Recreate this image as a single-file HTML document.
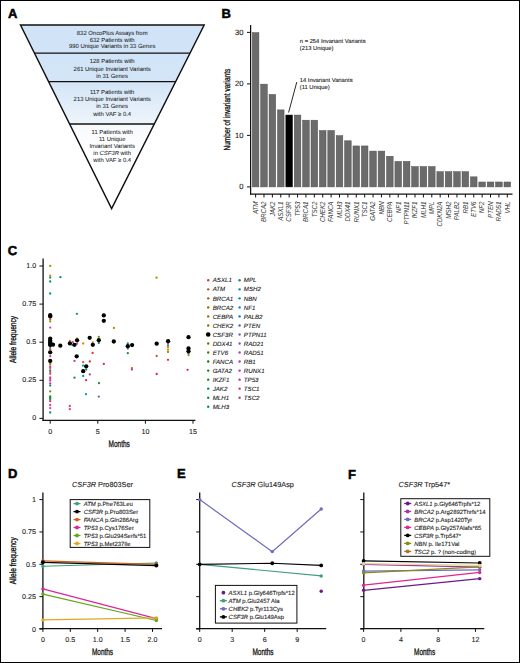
<!DOCTYPE html>
<html><head><meta charset="utf-8"><title>Figure</title>
<style>
html,body{margin:0;padding:0;background:#fff;}
svg{display:block;}
svg text{font-family:"Liberation Sans", sans-serif;text-rendering:geometricPrecision;stroke:currentColor;stroke-width:0.1px;paint-order:stroke;}
</style></head><body>
<svg width="520" height="663" viewBox="0 0 520 663">
<rect x="0.5" y="0.5" width="519" height="662" fill="#fff" stroke="#000" stroke-width="1"/>
<text x="8.10" y="18.10" font-size="13.0" text-anchor="start" fill="#000" font-weight="bold" font-style="normal" style="stroke-width:0.5px">A</text>
<text x="221.60" y="18.10" font-size="13.0" text-anchor="start" fill="#000" font-weight="bold" font-style="normal" style="stroke-width:0.5px">B</text>
<text x="7.70" y="255.10" font-size="13.0" text-anchor="start" fill="#000" font-weight="bold" font-style="normal" style="stroke-width:0.5px">C</text>
<text x="8.00" y="478.20" font-size="13.0" text-anchor="start" fill="#000" font-weight="bold" font-style="normal" style="stroke-width:0.5px">D</text>
<text x="177.10" y="478.20" font-size="13.0" text-anchor="start" fill="#000" font-weight="bold" font-style="normal" style="stroke-width:0.5px">E</text>
<text x="348.00" y="478.60" font-size="13.0" text-anchor="start" fill="#000" font-weight="bold" font-style="normal" style="stroke-width:0.5px">F</text>
<defs><linearGradient id="fg" x1="0" y1="24" x2="0" y2="209" gradientUnits="userSpaceOnUse"><stop offset="0" stop-color="#d0e3f7"/><stop offset="0.31" stop-color="#d3e5f7"/><stop offset="0.535" stop-color="#edf4fb"/><stop offset="0.545" stop-color="#f7fafd"/><stop offset="0.7" stop-color="#fdfeff"/><stop offset="1" stop-color="#ffffff"/></linearGradient></defs>
<polygon points="20.5,25.0 204.2,25.0 111.6,208.6" fill="url(#fg)" stroke="#111" stroke-width="1.45" stroke-linejoin="miter"/>
<line x1="34.44" y1="53.1" x2="190.03" y2="53.1" stroke="#111" stroke-width="1.45"/>
<line x1="48.58" y1="81.6" x2="175.65" y2="81.6" stroke="#111" stroke-width="1.45"/>
<line x1="69.62" y1="124.0" x2="154.27" y2="124.0" stroke="#111" stroke-width="1.45"/>
<text x="112.20" y="34.60" font-size="5.9" text-anchor="middle" fill="#262626" font-weight="normal" font-style="normal" style="stroke-width:0.06px">832 OncoPlus Assays from</text>
<text x="112.20" y="41.50" font-size="5.9" text-anchor="middle" fill="#262626" font-weight="normal" font-style="normal" style="stroke-width:0.06px">632 Patients with</text>
<text x="112.20" y="48.40" font-size="5.9" text-anchor="middle" fill="#262626" font-weight="normal" font-style="normal" style="stroke-width:0.06px">990 Unique Variants in 33 Genes</text>
<text x="112.20" y="63.30" font-size="5.9" text-anchor="middle" fill="#262626" font-weight="normal" font-style="normal" style="stroke-width:0.06px">128 Patients with</text>
<text x="112.20" y="70.50" font-size="5.9" text-anchor="middle" fill="#262626" font-weight="normal" font-style="normal" style="stroke-width:0.06px">261 Unique Invariant Variants</text>
<text x="112.20" y="77.70" font-size="5.9" text-anchor="middle" fill="#262626" font-weight="normal" font-style="normal" style="stroke-width:0.06px">in 31 Genes</text>
<text x="112.20" y="94.00" font-size="5.9" text-anchor="middle" fill="#262626" font-weight="normal" font-style="normal" style="stroke-width:0.06px">117 Patients with</text>
<text x="112.20" y="101.20" font-size="5.9" text-anchor="middle" fill="#262626" font-weight="normal" font-style="normal" style="stroke-width:0.06px">213 Unique Invariant Variants</text>
<text x="112.20" y="108.40" font-size="5.9" text-anchor="middle" fill="#262626" font-weight="normal" font-style="normal" style="stroke-width:0.06px">in 31 Genes</text>
<text x="112.20" y="115.60" font-size="5.9" text-anchor="middle" fill="#262626" font-weight="normal" font-style="normal" style="stroke-width:0.06px">with VAF &#8805; 0.4</text>
<text x="112.20" y="133.70" font-size="5.9" text-anchor="middle" fill="#262626" font-weight="normal" font-style="normal" style="stroke-width:0.06px">11 Patients with</text>
<text x="112.20" y="140.85" font-size="5.9" text-anchor="middle" fill="#262626" font-weight="normal" font-style="normal" style="stroke-width:0.06px">11 Unique</text>
<text x="112.20" y="148.00" font-size="5.9" text-anchor="middle" fill="#262626" font-weight="normal" font-style="normal" style="stroke-width:0.06px">Invariant Variants</text>
<text x="112.20" y="155.15" font-size="5.9" text-anchor="middle" fill="#262626" font-weight="normal" font-style="normal" style="stroke-width:0.06px">in <tspan font-style="italic">CSF3R</tspan> with</text>
<text x="112.20" y="162.30" font-size="5.9" text-anchor="middle" fill="#262626" font-weight="normal" font-style="normal" style="stroke-width:0.06px">with VAF &#8805; 0.4</text>
<rect x="252.30" y="32.65" width="6.60" height="154.25" fill="#6b6b6b" stroke="#4e4e4e" stroke-width="0.5"/>
<line x1="255.60" y1="194" x2="255.60" y2="197.5" stroke="#111" stroke-width="1"/>
<text transform="translate(257.90,201.5) rotate(-90) scale(0.86,1)" font-size="7.2" font-style="italic" text-anchor="end" fill="#3a3a3a" style="stroke-width:0.03px">ATM</text>
<rect x="260.69" y="84.15" width="6.60" height="102.75" fill="#6b6b6b" stroke="#4e4e4e" stroke-width="0.5"/>
<line x1="263.99" y1="194" x2="263.99" y2="197.5" stroke="#111" stroke-width="1"/>
<text transform="translate(266.29,201.5) rotate(-90) scale(0.86,1)" font-size="7.2" font-style="italic" text-anchor="end" fill="#3a3a3a" style="stroke-width:0.03px">BRCA2</text>
<rect x="269.08" y="94.45" width="6.60" height="92.45" fill="#6b6b6b" stroke="#4e4e4e" stroke-width="0.5"/>
<line x1="272.38" y1="194" x2="272.38" y2="197.5" stroke="#111" stroke-width="1"/>
<text transform="translate(274.68,201.5) rotate(-90) scale(0.86,1)" font-size="7.2" font-style="italic" text-anchor="end" fill="#3a3a3a" style="stroke-width:0.03px">JAK2</text>
<rect x="277.47" y="109.90" width="6.60" height="77.00" fill="#6b6b6b" stroke="#4e4e4e" stroke-width="0.5"/>
<line x1="280.77" y1="194" x2="280.77" y2="197.5" stroke="#111" stroke-width="1"/>
<text transform="translate(283.07,201.5) rotate(-90) scale(0.86,1)" font-size="7.2" font-style="italic" text-anchor="end" fill="#3a3a3a" style="stroke-width:0.03px">ASXL1</text>
<rect x="285.86" y="115.05" width="6.60" height="71.85" fill="#000" stroke="#000" stroke-width="0.5"/>
<line x1="289.16" y1="194" x2="289.16" y2="197.5" stroke="#111" stroke-width="1"/>
<text transform="translate(291.46,201.5) rotate(-90) scale(0.86,1)" font-size="7.2" font-style="italic" text-anchor="end" fill="#3a3a3a" style="stroke-width:0.03px">CSF3R</text>
<rect x="294.25" y="115.05" width="6.60" height="71.85" fill="#6b6b6b" stroke="#4e4e4e" stroke-width="0.5"/>
<line x1="297.55" y1="194" x2="297.55" y2="197.5" stroke="#111" stroke-width="1"/>
<text transform="translate(299.85,201.5) rotate(-90) scale(0.86,1)" font-size="7.2" font-style="italic" text-anchor="end" fill="#3a3a3a" style="stroke-width:0.03px">TP53</text>
<rect x="302.64" y="120.20" width="6.60" height="66.70" fill="#6b6b6b" stroke="#4e4e4e" stroke-width="0.5"/>
<line x1="305.94" y1="194" x2="305.94" y2="197.5" stroke="#111" stroke-width="1"/>
<text transform="translate(308.24,201.5) rotate(-90) scale(0.86,1)" font-size="7.2" font-style="italic" text-anchor="end" fill="#3a3a3a" style="stroke-width:0.03px">BRCA1</text>
<rect x="311.03" y="120.20" width="6.60" height="66.70" fill="#6b6b6b" stroke="#4e4e4e" stroke-width="0.5"/>
<line x1="314.33" y1="194" x2="314.33" y2="197.5" stroke="#111" stroke-width="1"/>
<text transform="translate(316.63,201.5) rotate(-90) scale(0.86,1)" font-size="7.2" font-style="italic" text-anchor="end" fill="#3a3a3a" style="stroke-width:0.03px">TSC2</text>
<rect x="319.42" y="130.50" width="6.60" height="56.40" fill="#6b6b6b" stroke="#4e4e4e" stroke-width="0.5"/>
<line x1="322.72" y1="194" x2="322.72" y2="197.5" stroke="#111" stroke-width="1"/>
<text transform="translate(325.02,201.5) rotate(-90) scale(0.86,1)" font-size="7.2" font-style="italic" text-anchor="end" fill="#3a3a3a" style="stroke-width:0.03px">CHEK2</text>
<rect x="327.81" y="130.50" width="6.60" height="56.40" fill="#6b6b6b" stroke="#4e4e4e" stroke-width="0.5"/>
<line x1="331.11" y1="194" x2="331.11" y2="197.5" stroke="#111" stroke-width="1"/>
<text transform="translate(333.41,201.5) rotate(-90) scale(0.86,1)" font-size="7.2" font-style="italic" text-anchor="end" fill="#3a3a3a" style="stroke-width:0.03px">FANCA</text>
<rect x="336.20" y="135.65" width="6.60" height="51.25" fill="#6b6b6b" stroke="#4e4e4e" stroke-width="0.5"/>
<line x1="339.50" y1="194" x2="339.50" y2="197.5" stroke="#111" stroke-width="1"/>
<text transform="translate(341.80,201.5) rotate(-90) scale(0.86,1)" font-size="7.2" font-style="italic" text-anchor="end" fill="#3a3a3a" style="stroke-width:0.03px">MLH3</text>
<rect x="344.59" y="140.80" width="6.60" height="46.10" fill="#6b6b6b" stroke="#4e4e4e" stroke-width="0.5"/>
<line x1="347.89" y1="194" x2="347.89" y2="197.5" stroke="#111" stroke-width="1"/>
<text transform="translate(350.19,201.5) rotate(-90) scale(0.86,1)" font-size="7.2" font-style="italic" text-anchor="end" fill="#3a3a3a" style="stroke-width:0.03px">DDX41</text>
<rect x="352.98" y="145.95" width="6.60" height="40.95" fill="#6b6b6b" stroke="#4e4e4e" stroke-width="0.5"/>
<line x1="356.28" y1="194" x2="356.28" y2="197.5" stroke="#111" stroke-width="1"/>
<text transform="translate(358.58,201.5) rotate(-90) scale(0.86,1)" font-size="7.2" font-style="italic" text-anchor="end" fill="#3a3a3a" style="stroke-width:0.03px">RUNX1</text>
<rect x="361.37" y="145.95" width="6.60" height="40.95" fill="#6b6b6b" stroke="#4e4e4e" stroke-width="0.5"/>
<line x1="364.67" y1="194" x2="364.67" y2="197.5" stroke="#111" stroke-width="1"/>
<text transform="translate(366.97,201.5) rotate(-90) scale(0.86,1)" font-size="7.2" font-style="italic" text-anchor="end" fill="#3a3a3a" style="stroke-width:0.03px">TSC1</text>
<rect x="369.76" y="151.10" width="6.60" height="35.80" fill="#6b6b6b" stroke="#4e4e4e" stroke-width="0.5"/>
<line x1="373.06" y1="194" x2="373.06" y2="197.5" stroke="#111" stroke-width="1"/>
<text transform="translate(375.36,201.5) rotate(-90) scale(0.86,1)" font-size="7.2" font-style="italic" text-anchor="end" fill="#3a3a3a" style="stroke-width:0.03px">GATA2</text>
<rect x="378.15" y="151.10" width="6.60" height="35.80" fill="#6b6b6b" stroke="#4e4e4e" stroke-width="0.5"/>
<line x1="381.45" y1="194" x2="381.45" y2="197.5" stroke="#111" stroke-width="1"/>
<text transform="translate(383.75,201.5) rotate(-90) scale(0.86,1)" font-size="7.2" font-style="italic" text-anchor="end" fill="#3a3a3a" style="stroke-width:0.03px">NBN</text>
<rect x="386.54" y="156.25" width="6.60" height="30.65" fill="#6b6b6b" stroke="#4e4e4e" stroke-width="0.5"/>
<line x1="389.84" y1="194" x2="389.84" y2="197.5" stroke="#111" stroke-width="1"/>
<text transform="translate(392.14,201.5) rotate(-90) scale(0.86,1)" font-size="7.2" font-style="italic" text-anchor="end" fill="#3a3a3a" style="stroke-width:0.03px">CEBPA</text>
<rect x="394.93" y="161.40" width="6.60" height="25.50" fill="#6b6b6b" stroke="#4e4e4e" stroke-width="0.5"/>
<line x1="398.23" y1="194" x2="398.23" y2="197.5" stroke="#111" stroke-width="1"/>
<text transform="translate(400.53,201.5) rotate(-90) scale(0.86,1)" font-size="7.2" font-style="italic" text-anchor="end" fill="#3a3a3a" style="stroke-width:0.03px">NF1</text>
<rect x="403.32" y="161.40" width="6.60" height="25.50" fill="#6b6b6b" stroke="#4e4e4e" stroke-width="0.5"/>
<line x1="406.62" y1="194" x2="406.62" y2="197.5" stroke="#111" stroke-width="1"/>
<text transform="translate(408.92,201.5) rotate(-90) scale(0.86,1)" font-size="7.2" font-style="italic" text-anchor="end" fill="#3a3a3a" style="stroke-width:0.03px">PTPN11</text>
<rect x="411.71" y="166.55" width="6.60" height="20.35" fill="#6b6b6b" stroke="#4e4e4e" stroke-width="0.5"/>
<line x1="415.01" y1="194" x2="415.01" y2="197.5" stroke="#111" stroke-width="1"/>
<text transform="translate(417.31,201.5) rotate(-90) scale(0.86,1)" font-size="7.2" font-style="italic" text-anchor="end" fill="#3a3a3a" style="stroke-width:0.03px">IKZF1</text>
<rect x="420.10" y="166.55" width="6.60" height="20.35" fill="#6b6b6b" stroke="#4e4e4e" stroke-width="0.5"/>
<line x1="423.40" y1="194" x2="423.40" y2="197.5" stroke="#111" stroke-width="1"/>
<text transform="translate(425.70,201.5) rotate(-90) scale(0.86,1)" font-size="7.2" font-style="italic" text-anchor="end" fill="#3a3a3a" style="stroke-width:0.03px">MLH1</text>
<rect x="428.49" y="166.55" width="6.60" height="20.35" fill="#6b6b6b" stroke="#4e4e4e" stroke-width="0.5"/>
<line x1="431.79" y1="194" x2="431.79" y2="197.5" stroke="#111" stroke-width="1"/>
<text transform="translate(434.09,201.5) rotate(-90) scale(0.86,1)" font-size="7.2" font-style="italic" text-anchor="end" fill="#3a3a3a" style="stroke-width:0.03px">MPL</text>
<rect x="436.88" y="171.70" width="6.60" height="15.20" fill="#6b6b6b" stroke="#4e4e4e" stroke-width="0.5"/>
<line x1="440.18" y1="194" x2="440.18" y2="197.5" stroke="#111" stroke-width="1"/>
<text transform="translate(442.48,201.5) rotate(-90) scale(0.86,1)" font-size="7.2" font-style="italic" text-anchor="end" fill="#3a3a3a" style="stroke-width:0.03px">CDKN2A</text>
<rect x="445.27" y="171.70" width="6.60" height="15.20" fill="#6b6b6b" stroke="#4e4e4e" stroke-width="0.5"/>
<line x1="448.57" y1="194" x2="448.57" y2="197.5" stroke="#111" stroke-width="1"/>
<text transform="translate(450.87,201.5) rotate(-90) scale(0.86,1)" font-size="7.2" font-style="italic" text-anchor="end" fill="#3a3a3a" style="stroke-width:0.03px">MSH2</text>
<rect x="453.66" y="171.70" width="6.60" height="15.20" fill="#6b6b6b" stroke="#4e4e4e" stroke-width="0.5"/>
<line x1="456.96" y1="194" x2="456.96" y2="197.5" stroke="#111" stroke-width="1"/>
<text transform="translate(459.26,201.5) rotate(-90) scale(0.86,1)" font-size="7.2" font-style="italic" text-anchor="end" fill="#3a3a3a" style="stroke-width:0.03px">PALB2</text>
<rect x="462.05" y="171.70" width="6.60" height="15.20" fill="#6b6b6b" stroke="#4e4e4e" stroke-width="0.5"/>
<line x1="465.35" y1="194" x2="465.35" y2="197.5" stroke="#111" stroke-width="1"/>
<text transform="translate(467.65,201.5) rotate(-90) scale(0.86,1)" font-size="7.2" font-style="italic" text-anchor="end" fill="#3a3a3a" style="stroke-width:0.03px">RB1</text>
<rect x="470.44" y="176.85" width="6.60" height="10.05" fill="#6b6b6b" stroke="#4e4e4e" stroke-width="0.5"/>
<line x1="473.74" y1="194" x2="473.74" y2="197.5" stroke="#111" stroke-width="1"/>
<text transform="translate(476.04,201.5) rotate(-90) scale(0.86,1)" font-size="7.2" font-style="italic" text-anchor="end" fill="#3a3a3a" style="stroke-width:0.03px">ETV6</text>
<rect x="478.83" y="182.00" width="6.60" height="4.90" fill="#6b6b6b" stroke="#4e4e4e" stroke-width="0.5"/>
<line x1="482.13" y1="194" x2="482.13" y2="197.5" stroke="#111" stroke-width="1"/>
<text transform="translate(484.43,201.5) rotate(-90) scale(0.86,1)" font-size="7.2" font-style="italic" text-anchor="end" fill="#3a3a3a" style="stroke-width:0.03px">NF2</text>
<rect x="487.22" y="182.00" width="6.60" height="4.90" fill="#6b6b6b" stroke="#4e4e4e" stroke-width="0.5"/>
<line x1="490.52" y1="194" x2="490.52" y2="197.5" stroke="#111" stroke-width="1"/>
<text transform="translate(492.82,201.5) rotate(-90) scale(0.86,1)" font-size="7.2" font-style="italic" text-anchor="end" fill="#3a3a3a" style="stroke-width:0.03px">PTEN</text>
<rect x="495.61" y="182.00" width="6.60" height="4.90" fill="#6b6b6b" stroke="#4e4e4e" stroke-width="0.5"/>
<line x1="498.91" y1="194" x2="498.91" y2="197.5" stroke="#111" stroke-width="1"/>
<text transform="translate(501.21,201.5) rotate(-90) scale(0.86,1)" font-size="7.2" font-style="italic" text-anchor="end" fill="#3a3a3a" style="stroke-width:0.03px">RAD51</text>
<rect x="504.00" y="182.00" width="6.60" height="4.90" fill="#6b6b6b" stroke="#4e4e4e" stroke-width="0.5"/>
<line x1="507.30" y1="194" x2="507.30" y2="197.5" stroke="#111" stroke-width="1"/>
<text transform="translate(509.60,201.5) rotate(-90) scale(0.86,1)" font-size="7.2" font-style="italic" text-anchor="end" fill="#3a3a3a" style="stroke-width:0.03px">VHL</text>
<line x1="250.6" y1="25" x2="250.6" y2="194.6" stroke="#111" stroke-width="1.25"/>
<line x1="250" y1="194" x2="512.5" y2="194" stroke="#111" stroke-width="1.25"/>
<line x1="247" y1="186.90" x2="250.6" y2="186.90" stroke="#111" stroke-width="1"/>
<text x="243.40" y="189.10" font-size="7.6" text-anchor="end" fill="#222" font-weight="normal" font-style="normal" >0</text>
<line x1="247" y1="135.40" x2="250.6" y2="135.40" stroke="#111" stroke-width="1"/>
<text x="243.40" y="137.60" font-size="7.6" text-anchor="end" fill="#222" font-weight="normal" font-style="normal" >10</text>
<line x1="247" y1="83.90" x2="250.6" y2="83.90" stroke="#111" stroke-width="1"/>
<text x="243.40" y="86.10" font-size="7.6" text-anchor="end" fill="#222" font-weight="normal" font-style="normal" >20</text>
<line x1="247" y1="32.40" x2="250.6" y2="32.40" stroke="#111" stroke-width="1"/>
<text x="243.40" y="34.60" font-size="7.6" text-anchor="end" fill="#222" font-weight="normal" font-style="normal" >30</text>
<text transform="translate(229.5,109.6) rotate(-90) scale(0.727,1)" font-size="9" text-anchor="middle" fill="#111" style="stroke-width:0.3px">Number of invariant variants</text>
<text x="299.80" y="42.60" font-size="5.8" text-anchor="start" fill="#222" font-weight="normal" font-style="normal" >n = 254 Invariant Variants</text>
<text x="299.80" y="49.90" font-size="5.8" text-anchor="start" fill="#222" font-weight="normal" font-style="normal" >(213 Unique)</text>
<text x="299.80" y="82.40" font-size="5.8" text-anchor="start" fill="#222" font-weight="normal" font-style="normal" >14 Invariant Variants</text>
<text x="299.80" y="89.40" font-size="5.8" text-anchor="start" fill="#222" font-weight="normal" font-style="normal" >(11 Unique)</text>
<line x1="296.8" y1="82" x2="288.6" y2="112.5" stroke="#111" stroke-width="0.9"/>
<line x1="43.1" y1="258.5" x2="43.1" y2="421" stroke="#111" stroke-width="1.3"/>
<line x1="42.5" y1="420.4" x2="195.4" y2="420.4" stroke="#111" stroke-width="1.3"/>
<line x1="39.4" y1="418.40" x2="43.1" y2="418.40" stroke="#111" stroke-width="1"/>
<text x="36.10" y="420.00" font-size="7.1" text-anchor="end" fill="#222" font-weight="normal" font-style="normal" >0</text>
<line x1="39.4" y1="380.30" x2="43.1" y2="380.30" stroke="#111" stroke-width="1"/>
<text x="36.10" y="381.90" font-size="7.1" text-anchor="end" fill="#222" font-weight="normal" font-style="normal" >0.25</text>
<line x1="39.4" y1="342.20" x2="43.1" y2="342.20" stroke="#111" stroke-width="1"/>
<text x="36.10" y="343.80" font-size="7.1" text-anchor="end" fill="#222" font-weight="normal" font-style="normal" >0.5</text>
<line x1="39.4" y1="304.10" x2="43.1" y2="304.10" stroke="#111" stroke-width="1"/>
<text x="36.10" y="305.70" font-size="7.1" text-anchor="end" fill="#222" font-weight="normal" font-style="normal" >0.75</text>
<line x1="39.4" y1="266.00" x2="43.1" y2="266.00" stroke="#111" stroke-width="1"/>
<text x="36.10" y="267.60" font-size="7.1" text-anchor="end" fill="#222" font-weight="normal" font-style="normal" >1.0</text>
<line x1="50.20" y1="420.4" x2="50.20" y2="423.7" stroke="#111" stroke-width="1"/>
<text x="50.20" y="433.70" font-size="7.1" text-anchor="middle" fill="#222" font-weight="normal" font-style="normal" >0</text>
<line x1="97.80" y1="420.4" x2="97.80" y2="423.7" stroke="#111" stroke-width="1"/>
<text x="97.80" y="433.70" font-size="7.1" text-anchor="middle" fill="#222" font-weight="normal" font-style="normal" >5</text>
<line x1="145.40" y1="420.4" x2="145.40" y2="423.7" stroke="#111" stroke-width="1"/>
<text x="145.40" y="433.70" font-size="7.1" text-anchor="middle" fill="#222" font-weight="normal" font-style="normal" >10</text>
<line x1="193.00" y1="420.4" x2="193.00" y2="423.7" stroke="#111" stroke-width="1"/>
<text x="193.00" y="433.70" font-size="7.1" text-anchor="middle" fill="#222" font-weight="normal" font-style="normal" >15</text>
<text transform="translate(119.2,446.7) scale(0.68,1)" font-size="9.5" text-anchor="middle" fill="#111" style="stroke-width:0.3px">Months</text>
<text transform="translate(16.0,339.4) rotate(-90) scale(0.735,1)" font-size="9" text-anchor="middle" fill="#111" style="stroke-width:0.3px">Allele frequency</text>
<circle cx="208.2" cy="280.30" r="1.2" fill="#bf464d"/>
<text x="212.70" y="282.45" font-size="6.15" text-anchor="start" fill="#222" font-weight="normal" font-style="italic" >ASXL1</text>
<circle cx="208.2" cy="289.33" r="1.2" fill="#b85028"/>
<text x="212.70" y="291.48" font-size="6.15" text-anchor="start" fill="#222" font-weight="normal" font-style="italic" >ATM</text>
<circle cx="208.2" cy="298.36" r="1.2" fill="#af5900"/>
<text x="212.70" y="300.51" font-size="6.15" text-anchor="start" fill="#222" font-weight="normal" font-style="italic" >BRCA1</text>
<circle cx="208.2" cy="307.39" r="1.2" fill="#a46100"/>
<text x="212.70" y="309.54" font-size="6.15" text-anchor="start" fill="#222" font-weight="normal" font-style="italic" >BRCA2</text>
<circle cx="208.2" cy="316.42" r="1.2" fill="#986800"/>
<text x="212.70" y="318.57" font-size="6.15" text-anchor="start" fill="#222" font-weight="normal" font-style="italic" >CEBPA</text>
<circle cx="208.2" cy="325.45" r="1.2" fill="#896f00"/>
<text x="212.70" y="327.60" font-size="6.15" text-anchor="start" fill="#222" font-weight="normal" font-style="italic" >CHEK2</text>
<circle cx="208.2" cy="334.48" r="2.3" fill="#000"/>
<text x="212.70" y="336.63" font-size="6.15" text-anchor="start" fill="#222" font-weight="normal" font-style="italic" >CSF3R</text>
<circle cx="208.2" cy="343.51" r="1.2" fill="#627a00"/>
<text x="212.70" y="345.66" font-size="6.15" text-anchor="start" fill="#222" font-weight="normal" font-style="italic" >DDX41</text>
<circle cx="208.2" cy="352.54" r="1.2" fill="#457f00"/>
<text x="212.70" y="354.69" font-size="6.15" text-anchor="start" fill="#222" font-weight="normal" font-style="italic" >ETV6</text>
<circle cx="208.2" cy="361.57" r="1.2" fill="#008400"/>
<text x="212.70" y="363.72" font-size="6.15" text-anchor="start" fill="#222" font-weight="normal" font-style="italic" >FANCA</text>
<circle cx="208.2" cy="370.60" r="1.2" fill="#008700"/>
<text x="212.70" y="372.75" font-size="6.15" text-anchor="start" fill="#222" font-weight="normal" font-style="italic" >GATA2</text>
<circle cx="208.2" cy="379.63" r="1.2" fill="#008a31"/>
<text x="212.70" y="381.78" font-size="6.15" text-anchor="start" fill="#222" font-weight="normal" font-style="italic" >IKZF1</text>
<circle cx="208.2" cy="388.66" r="1.2" fill="#008d51"/>
<text x="212.70" y="390.81" font-size="6.15" text-anchor="start" fill="#222" font-weight="normal" font-style="italic" >JAK2</text>
<circle cx="208.2" cy="397.69" r="1.2" fill="#008e6a"/>
<text x="212.70" y="399.84" font-size="6.15" text-anchor="start" fill="#222" font-weight="normal" font-style="italic" >MLH1</text>
<circle cx="208.2" cy="406.72" r="1.2" fill="#008e80"/>
<text x="212.70" y="408.87" font-size="6.15" text-anchor="start" fill="#222" font-weight="normal" font-style="italic" >MLH3</text>
<circle cx="239.6" cy="280.30" r="1.2" fill="#008d94"/>
<text x="243.80" y="282.45" font-size="6.15" text-anchor="start" fill="#222" font-weight="normal" font-style="italic" >MPL</text>
<circle cx="239.6" cy="289.33" r="1.2" fill="#008ba6"/>
<text x="243.80" y="291.48" font-size="6.15" text-anchor="start" fill="#222" font-weight="normal" font-style="italic" >MSH2</text>
<circle cx="239.6" cy="298.36" r="1.2" fill="#0086b5"/>
<text x="243.80" y="300.51" font-size="6.15" text-anchor="start" fill="#222" font-weight="normal" font-style="italic" >NBN</text>
<circle cx="239.6" cy="307.39" r="1.2" fill="#007fc2"/>
<text x="243.80" y="309.54" font-size="6.15" text-anchor="start" fill="#222" font-weight="normal" font-style="italic" >NF1</text>
<circle cx="239.6" cy="316.42" r="1.2" fill="#0076cb"/>
<text x="243.80" y="318.57" font-size="6.15" text-anchor="start" fill="#222" font-weight="normal" font-style="italic" >PALB2</text>
<circle cx="239.6" cy="325.45" r="1.2" fill="#3f6ad0"/>
<text x="243.80" y="327.60" font-size="6.15" text-anchor="start" fill="#222" font-weight="normal" font-style="italic" >PTEN</text>
<circle cx="239.6" cy="334.48" r="1.2" fill="#735dd1"/>
<text x="243.80" y="336.63" font-size="6.15" text-anchor="start" fill="#222" font-weight="normal" font-style="italic" >PTPN11</text>
<circle cx="239.6" cy="343.51" r="1.2" fill="#924ecd"/>
<text x="243.80" y="345.66" font-size="6.15" text-anchor="start" fill="#222" font-weight="normal" font-style="italic" >RAD21</text>
<circle cx="239.6" cy="352.54" r="1.2" fill="#a940c4"/>
<text x="243.80" y="354.69" font-size="6.15" text-anchor="start" fill="#222" font-weight="normal" font-style="italic" >RAD51</text>
<circle cx="239.6" cy="361.57" r="1.2" fill="#b834b7"/>
<text x="243.80" y="363.72" font-size="6.15" text-anchor="start" fill="#222" font-weight="normal" font-style="italic" >RB1</text>
<circle cx="239.6" cy="370.60" r="1.2" fill="#c12da7"/>
<text x="243.80" y="372.75" font-size="6.15" text-anchor="start" fill="#222" font-weight="normal" font-style="italic" >RUNX1</text>
<circle cx="239.6" cy="379.63" r="1.2" fill="#c62d95"/>
<text x="243.80" y="381.78" font-size="6.15" text-anchor="start" fill="#222" font-weight="normal" font-style="italic" >TP53</text>
<circle cx="239.6" cy="388.66" r="1.2" fill="#c63380"/>
<text x="243.80" y="390.81" font-size="6.15" text-anchor="start" fill="#222" font-weight="normal" font-style="italic" >TSC1</text>
<circle cx="239.6" cy="397.69" r="1.2" fill="#c43c69"/>
<text x="243.80" y="399.84" font-size="6.15" text-anchor="start" fill="#222" font-weight="normal" font-style="italic" >TSC2</text>
<circle cx="50.2" cy="265.9" r="1.15" fill="#a89000"/>
<circle cx="50.2" cy="275.7" r="1.15" fill="#d88400"/>
<circle cx="50.2" cy="277.6" r="1.15" fill="#009468"/>
<circle cx="50.2" cy="281.5" r="1.15" fill="#009468"/>
<circle cx="50.2" cy="293.5" r="1.15" fill="#009468"/>
<circle cx="50.2" cy="319.5" r="1.15" fill="#d85420"/>
<circle cx="50.2" cy="321.4" r="1.15" fill="#a89000"/>
<circle cx="50.2" cy="327.6" r="1.15" fill="#d83c98"/>
<circle cx="50.2" cy="348.1" r="1.15" fill="#0098c8"/>
<circle cx="50.2" cy="349.4" r="1.15" fill="#d85420"/>
<circle cx="50.2" cy="356.2" r="1.15" fill="#d83c98"/>
<circle cx="50.2" cy="363.4" r="1.15" fill="#d85420"/>
<circle cx="50.2" cy="364.6" r="1.15" fill="#a89000"/>
<circle cx="50.2" cy="366.6" r="1.15" fill="#d83c98"/>
<circle cx="50.2" cy="367.9" r="1.15" fill="#d83c98"/>
<circle cx="50.2" cy="370.5" r="1.15" fill="#009468"/>
<circle cx="50.2" cy="372.1" r="1.15" fill="#d83c98"/>
<circle cx="50.2" cy="373.8" r="1.15" fill="#d85420"/>
<circle cx="50.2" cy="377.4" r="1.15" fill="#d83c98"/>
<circle cx="50.2" cy="378.8" r="1.15" fill="#d83c98"/>
<circle cx="50.2" cy="380.6" r="1.15" fill="#c038a8"/>
<circle cx="50.2" cy="383.5" r="1.15" fill="#c038a8"/>
<circle cx="50.2" cy="385.6" r="1.15" fill="#009468"/>
<circle cx="50.2" cy="391.4" r="1.15" fill="#609c00"/>
<circle cx="50.2" cy="396.4" r="1.15" fill="#189034"/>
<circle cx="50.2" cy="397.7" r="1.15" fill="#189034"/>
<circle cx="50.2" cy="399.0" r="1.15" fill="#189034"/>
<circle cx="50.2" cy="401.1" r="1.15" fill="#d03040"/>
<circle cx="50.2" cy="405.0" r="1.15" fill="#d83c98"/>
<circle cx="50.2" cy="408.1" r="1.15" fill="#d83c98"/>
<circle cx="50.2" cy="412.5" r="1.15" fill="#009468"/>
<circle cx="60.4" cy="277.2" r="1.15" fill="#009468"/>
<circle cx="76.9" cy="313.8" r="1.15" fill="#009468"/>
<circle cx="69.9" cy="340.8" r="1.15" fill="#d88400"/>
<circle cx="72.8" cy="342.2" r="1.15" fill="#d83c98"/>
<circle cx="72.5" cy="345.2" r="1.15" fill="#0098c8"/>
<circle cx="77.1" cy="338.6" r="1.15" fill="#a89000"/>
<circle cx="77.1" cy="343.7" r="1.15" fill="#d83c98"/>
<circle cx="83.2" cy="343.5" r="1.15" fill="#d88400"/>
<circle cx="92.8" cy="342.3" r="1.15" fill="#d88400"/>
<circle cx="92.6" cy="352.9" r="1.15" fill="#d03040"/>
<circle cx="74.5" cy="360.9" r="1.15" fill="#c038a8"/>
<circle cx="83.2" cy="362.2" r="1.15" fill="#d85420"/>
<circle cx="89.8" cy="361.5" r="1.15" fill="#d03040"/>
<circle cx="83.0" cy="365.6" r="1.15" fill="#0098c8"/>
<circle cx="86.2" cy="369.5" r="1.15" fill="#189034"/>
<circle cx="89.8" cy="374.4" r="1.15" fill="#c038a8"/>
<circle cx="83.2" cy="376.0" r="1.15" fill="#009494"/>
<circle cx="74.5" cy="377.7" r="1.15" fill="#189034"/>
<circle cx="86.1" cy="380.2" r="1.15" fill="#cc2c54"/>
<circle cx="86.0" cy="394.2" r="1.15" fill="#0098c8"/>
<circle cx="69.8" cy="406.0" r="1.15" fill="#d83c98"/>
<circle cx="69.8" cy="409.2" r="1.15" fill="#d83c98"/>
<circle cx="98.8" cy="396.6" r="1.15" fill="#8050c0"/>
<circle cx="99.0" cy="383.2" r="1.15" fill="#189034"/>
<circle cx="113.9" cy="328.0" r="1.15" fill="#a89000"/>
<circle cx="98.8" cy="336.9" r="1.15" fill="#609c00"/>
<circle cx="98.8" cy="342.9" r="1.15" fill="#189034"/>
<circle cx="103.8" cy="363.9" r="1.15" fill="#d03040"/>
<circle cx="127.8" cy="343.3" r="1.15" fill="#009468"/>
<circle cx="127.8" cy="348.5" r="1.15" fill="#8050c0"/>
<circle cx="127.8" cy="353.2" r="1.15" fill="#189034"/>
<circle cx="131.9" cy="368.1" r="1.15" fill="#d85420"/>
<circle cx="131.9" cy="369.6" r="1.15" fill="#c038a8"/>
<circle cx="156.5" cy="277.7" r="1.15" fill="#a89000"/>
<circle cx="156.7" cy="356.0" r="1.15" fill="#d85420"/>
<circle cx="156.7" cy="374.0" r="1.15" fill="#d03040"/>
<circle cx="168.0" cy="343.6" r="1.15" fill="#d83c98"/>
<circle cx="168.0" cy="345.4" r="1.15" fill="#0098c8"/>
<circle cx="168.0" cy="347.0" r="1.15" fill="#d88400"/>
<circle cx="168.0" cy="349.6" r="1.15" fill="#d88400"/>
<circle cx="168.0" cy="351.9" r="1.15" fill="#a89000"/>
<circle cx="168.0" cy="359.8" r="1.15" fill="#d03040"/>
<circle cx="187.6" cy="369.8" r="1.15" fill="#d03040"/>
<circle cx="188.5" cy="353.6" r="1.15" fill="#009494"/>
<circle cx="188.5" cy="355.2" r="1.15" fill="#d88400"/>
<circle cx="50.2" cy="315.2" r="2.15" fill="#000"/>
<circle cx="50.2" cy="316.4" r="2.15" fill="#000"/>
<circle cx="50.2" cy="338.6" r="2.15" fill="#000"/>
<circle cx="50.2" cy="340.4" r="2.15" fill="#000"/>
<circle cx="50.2" cy="342.2" r="2.15" fill="#000"/>
<circle cx="50.2" cy="344.0" r="2.15" fill="#000"/>
<circle cx="50.2" cy="345.0" r="2.15" fill="#000"/>
<circle cx="53.0" cy="344.7" r="2.15" fill="#000"/>
<circle cx="50.2" cy="352.3" r="2.15" fill="#000"/>
<circle cx="50.2" cy="360.9" r="2.15" fill="#000"/>
<circle cx="60.3" cy="345.7" r="2.15" fill="#000"/>
<circle cx="69.9" cy="343.4" r="2.15" fill="#000"/>
<circle cx="74.5" cy="344.8" r="2.15" fill="#000"/>
<circle cx="77.1" cy="340.3" r="2.15" fill="#000"/>
<circle cx="89.7" cy="337.8" r="2.15" fill="#000"/>
<circle cx="92.8" cy="344.8" r="2.15" fill="#000"/>
<circle cx="76.7" cy="356.3" r="2.15" fill="#000"/>
<circle cx="86.2" cy="366.3" r="2.15" fill="#000"/>
<circle cx="83.2" cy="371.2" r="2.15" fill="#000"/>
<circle cx="98.8" cy="340.2" r="2.15" fill="#000"/>
<circle cx="103.8" cy="315.4" r="2.15" fill="#000"/>
<circle cx="103.8" cy="320.8" r="2.15" fill="#000"/>
<circle cx="113.8" cy="341.5" r="2.15" fill="#000"/>
<circle cx="127.8" cy="346.2" r="2.15" fill="#000"/>
<circle cx="132.1" cy="345.1" r="2.15" fill="#000"/>
<circle cx="156.7" cy="343.7" r="2.15" fill="#000"/>
<circle cx="168.1" cy="341.2" r="2.15" fill="#000"/>
<circle cx="188.5" cy="337.2" r="2.15" fill="#000"/>
<circle cx="188.5" cy="348.5" r="2.15" fill="#000"/>
<circle cx="188.5" cy="351.3" r="2.15" fill="#000"/>
<line x1="42.9" y1="492.6" x2="42.9" y2="629.2" stroke="#111" stroke-width="1.3"/>
<line x1="39.4" y1="628.6" x2="162.0" y2="628.6" stroke="#111" stroke-width="1.3"/>
<line x1="39.4" y1="629.00" x2="42.9" y2="629.00" stroke="#111" stroke-width="1"/>
<text x="35.90" y="631.50" font-size="7.1" text-anchor="end" fill="#222" font-weight="normal" font-style="normal" >0</text>
<line x1="39.4" y1="596.65" x2="42.9" y2="596.65" stroke="#111" stroke-width="1"/>
<text x="35.90" y="599.15" font-size="7.1" text-anchor="end" fill="#222" font-weight="normal" font-style="normal" >0.25</text>
<line x1="39.4" y1="564.30" x2="42.9" y2="564.30" stroke="#111" stroke-width="1"/>
<text x="35.90" y="566.80" font-size="7.1" text-anchor="end" fill="#222" font-weight="normal" font-style="normal" >0.5</text>
<line x1="39.4" y1="531.95" x2="42.9" y2="531.95" stroke="#111" stroke-width="1"/>
<text x="35.90" y="534.45" font-size="7.1" text-anchor="end" fill="#222" font-weight="normal" font-style="normal" >0.75</text>
<line x1="39.4" y1="499.60" x2="42.9" y2="499.60" stroke="#111" stroke-width="1"/>
<text x="35.90" y="502.10" font-size="7.1" text-anchor="end" fill="#222" font-weight="normal" font-style="normal" >1</text>
<line x1="42.90" y1="628.6" x2="42.90" y2="631.9" stroke="#111" stroke-width="1"/>
<text x="42.90" y="642.00" font-size="7.1" text-anchor="middle" fill="#222" font-weight="normal" font-style="normal" >0</text>
<line x1="70.30" y1="628.6" x2="70.30" y2="631.9" stroke="#111" stroke-width="1"/>
<text x="70.30" y="642.00" font-size="7.1" text-anchor="middle" fill="#222" font-weight="normal" font-style="normal" >0.5</text>
<line x1="97.70" y1="628.6" x2="97.70" y2="631.9" stroke="#111" stroke-width="1"/>
<text x="97.70" y="642.00" font-size="7.1" text-anchor="middle" fill="#222" font-weight="normal" font-style="normal" >1.0</text>
<line x1="125.10" y1="628.6" x2="125.10" y2="631.9" stroke="#111" stroke-width="1"/>
<text x="125.10" y="642.00" font-size="7.1" text-anchor="middle" fill="#222" font-weight="normal" font-style="normal" >1.5</text>
<line x1="152.50" y1="628.6" x2="152.50" y2="631.9" stroke="#111" stroke-width="1"/>
<text x="152.50" y="642.00" font-size="7.1" text-anchor="middle" fill="#222" font-weight="normal" font-style="normal" >2.0</text>
<text x="102.50" y="487.20" font-size="7.3" text-anchor="middle" fill="#222" font-weight="normal" font-style="normal" ><tspan font-style="italic">CSF3R</tspan> Pro803Ser</text>
<text transform="translate(102.5,655.0) scale(0.68,1)" font-size="9.5" text-anchor="middle" fill="#111" style="stroke-width:0.3px">Months</text>
<text transform="translate(15.8,560.8) rotate(-90) scale(0.735,1)" font-size="9" text-anchor="middle" fill="#111" style="stroke-width:0.3px">Allele frequency</text>
<polyline points="42.90,566.24 156.34,563.01" fill="none" stroke="#3fa07a" stroke-width="1.2"/>
<circle cx="42.90" cy="566.24" r="1.7" fill="#3fa07a"/>
<circle cx="156.34" cy="563.01" r="1.7" fill="#3fa07a"/>
<polyline points="42.90,560.81 156.34,564.30" fill="none" stroke="#d2601a" stroke-width="1.2"/>
<circle cx="42.90" cy="560.81" r="1.7" fill="#d2601a"/>
<circle cx="156.34" cy="564.30" r="1.7" fill="#d2601a"/>
<polyline points="42.90,588.89 156.34,618.65" fill="none" stroke="#d8289a" stroke-width="1.2"/>
<circle cx="42.90" cy="588.89" r="1.7" fill="#d8289a"/>
<circle cx="156.34" cy="618.65" r="1.7" fill="#d8289a"/>
<polyline points="42.90,594.06 156.34,620.46" fill="none" stroke="#66a61e" stroke-width="1.2"/>
<circle cx="42.90" cy="594.06" r="1.7" fill="#66a61e"/>
<circle cx="156.34" cy="620.46" r="1.7" fill="#66a61e"/>
<polyline points="42.90,619.94 156.34,617.87" fill="none" stroke="#e0a820" stroke-width="1.2"/>
<circle cx="42.90" cy="619.94" r="1.7" fill="#e0a820"/>
<circle cx="156.34" cy="617.87" r="1.7" fill="#e0a820"/>
<polyline points="42.90,562.36 156.34,565.59" fill="none" stroke="#000" stroke-width="1.2"/>
<circle cx="42.90" cy="562.36" r="2.0" fill="#000"/>
<circle cx="156.34" cy="565.59" r="2.0" fill="#000"/>
<rect x="70.2" y="499.6" width="79.60000000000001" height="47.799999999999955" fill="#fff" stroke="#111" stroke-width="1"/>
<line x1="73.5" y1="503.6" x2="80.5" y2="503.6" stroke="#3fa07a" stroke-width="1.3"/>
<circle cx="77.0" cy="503.6" r="1.9" fill="#3fa07a"/>
<text x="83.7" y="505.70" font-size="5.95" fill="#222"><tspan font-style="italic">ATM</tspan> p.Phe763Leu</text>
<line x1="73.5" y1="511.6" x2="80.5" y2="511.6" stroke="#000" stroke-width="1.3"/>
<circle cx="77.0" cy="511.6" r="1.9" fill="#000"/>
<text x="83.7" y="513.70" font-size="5.95" fill="#222"><tspan font-style="italic">CSF3R</tspan> p.Pro803Ser</text>
<line x1="73.5" y1="519.6" x2="80.5" y2="519.6" stroke="#d2601a" stroke-width="1.3"/>
<circle cx="77.0" cy="519.6" r="1.9" fill="#d2601a"/>
<text x="83.7" y="521.70" font-size="5.95" fill="#222"><tspan font-style="italic">FANCA</tspan> p.Gln286Arg</text>
<line x1="73.5" y1="527.5" x2="80.5" y2="527.5" stroke="#d8289a" stroke-width="1.3"/>
<circle cx="77.0" cy="527.5" r="1.9" fill="#d8289a"/>
<text x="83.7" y="529.60" font-size="5.95" fill="#222"><tspan font-style="italic">TP53</tspan> p.Cys176Ser</text>
<line x1="73.5" y1="535.5" x2="80.5" y2="535.5" stroke="#66a61e" stroke-width="1.3"/>
<circle cx="77.0" cy="535.5" r="1.9" fill="#66a61e"/>
<text x="83.7" y="537.60" font-size="5.95" fill="#222"><tspan font-style="italic">TP53</tspan> p.Glu294Serfs*51</text>
<line x1="73.5" y1="543.5" x2="80.5" y2="543.5" stroke="#e0a820" stroke-width="1.3"/>
<circle cx="77.0" cy="543.5" r="1.9" fill="#e0a820"/>
<text x="83.7" y="545.60" font-size="5.95" fill="#222"><tspan font-style="italic">TP53</tspan> p.Met237Ile</text>
<line x1="199.7" y1="492.6" x2="199.7" y2="629.2" stroke="#111" stroke-width="1.3"/>
<line x1="196.2" y1="628.6" x2="326.2" y2="628.6" stroke="#111" stroke-width="1.3"/>
<line x1="196.2" y1="629.00" x2="199.7" y2="629.00" stroke="#111" stroke-width="1"/>
<line x1="196.2" y1="596.65" x2="199.7" y2="596.65" stroke="#111" stroke-width="1"/>
<line x1="196.2" y1="564.30" x2="199.7" y2="564.30" stroke="#111" stroke-width="1"/>
<line x1="196.2" y1="531.95" x2="199.7" y2="531.95" stroke="#111" stroke-width="1"/>
<line x1="196.2" y1="499.60" x2="199.7" y2="499.60" stroke="#111" stroke-width="1"/>
<line x1="199.70" y1="628.6" x2="199.70" y2="631.9" stroke="#111" stroke-width="1"/>
<text x="199.70" y="642.00" font-size="7.1" text-anchor="middle" fill="#222" font-weight="normal" font-style="normal" >0</text>
<line x1="232.19" y1="628.6" x2="232.19" y2="631.9" stroke="#111" stroke-width="1"/>
<text x="232.19" y="642.00" font-size="7.1" text-anchor="middle" fill="#222" font-weight="normal" font-style="normal" >3</text>
<line x1="264.68" y1="628.6" x2="264.68" y2="631.9" stroke="#111" stroke-width="1"/>
<text x="264.68" y="642.00" font-size="7.1" text-anchor="middle" fill="#222" font-weight="normal" font-style="normal" >6</text>
<line x1="297.17" y1="628.6" x2="297.17" y2="631.9" stroke="#111" stroke-width="1"/>
<text x="297.17" y="642.00" font-size="7.1" text-anchor="middle" fill="#222" font-weight="normal" font-style="normal" >9</text>
<text x="262.70" y="487.20" font-size="7.35" text-anchor="middle" fill="#222" font-weight="normal" font-style="normal" ><tspan font-style="italic">CSF3R</tspan> Glu149Asp</text>
<text transform="translate(263.0,655.0) scale(0.68,1)" font-size="9.5" text-anchor="middle" fill="#111" style="stroke-width:0.3px">Months</text>
<polyline points="199.70,564.30 321.21,575.95" fill="none" stroke="#3fa07a" stroke-width="1.2"/>
<circle cx="199.70" cy="564.30" r="1.7" fill="#3fa07a"/>
<circle cx="321.21" cy="575.95" r="1.7" fill="#3fa07a"/>
<polyline points="199.70,499.60 272.26,551.62 321.21,509.05" fill="none" stroke="#6b6bc0" stroke-width="1.2"/>
<circle cx="199.70" cy="499.60" r="1.7" fill="#6b6bc0"/>
<circle cx="272.26" cy="551.62" r="1.7" fill="#6b6bc0"/>
<circle cx="321.21" cy="509.05" r="1.7" fill="#6b6bc0"/>
<polyline points="199.70,564.30 272.26,563.26 321.21,565.46" fill="none" stroke="#000" stroke-width="1.2"/>
<circle cx="199.70" cy="564.30" r="1.9" fill="#000"/>
<circle cx="272.26" cy="563.26" r="1.9" fill="#000"/>
<circle cx="321.21" cy="565.46" r="1.9" fill="#000"/>
<circle cx="321.21" cy="591.22" r="1.7" fill="#6a1b8a"/>
<rect x="215.4" y="585.4" width="81.49999999999997" height="37.700000000000045" fill="#fff" stroke="#111" stroke-width="1"/>
<circle cx="223.4" cy="592.7" r="1.9" fill="#6a1b8a"/>
<text x="228.6" y="594.80" font-size="5.95" fill="#222"><tspan font-style="italic">ASXL1</tspan> p.Gly646Trpfs*12</text>
<line x1="219.9" y1="600.7" x2="226.9" y2="600.7" stroke="#3fa07a" stroke-width="1.3"/>
<circle cx="223.4" cy="600.7" r="1.9" fill="#3fa07a"/>
<text x="228.6" y="602.80" font-size="5.95" fill="#222"><tspan font-style="italic">ATM</tspan> p.Glu2457 Ala</text>
<line x1="219.9" y1="608.8" x2="226.9" y2="608.8" stroke="#6b6bc0" stroke-width="1.3"/>
<circle cx="223.4" cy="608.8" r="1.9" fill="#6b6bc0"/>
<text x="228.6" y="610.90" font-size="5.95" fill="#222"><tspan font-style="italic">CHEK2</tspan> p.Tyr113Cys</text>
<line x1="219.9" y1="616.9" x2="226.9" y2="616.9" stroke="#000" stroke-width="1.3"/>
<circle cx="223.4" cy="616.9" r="1.9" fill="#000"/>
<text x="228.6" y="619.00" font-size="5.95" fill="#222"><tspan font-style="italic">CSF3R</tspan> p.Glu149Asp</text>
<line x1="363.8" y1="492.6" x2="363.8" y2="629.2" stroke="#111" stroke-width="1.3"/>
<line x1="360.3" y1="628.6" x2="484.3" y2="628.6" stroke="#111" stroke-width="1.3"/>
<line x1="360.3" y1="629.00" x2="363.8" y2="629.00" stroke="#111" stroke-width="1"/>
<line x1="360.3" y1="596.65" x2="363.8" y2="596.65" stroke="#111" stroke-width="1"/>
<line x1="360.3" y1="564.30" x2="363.8" y2="564.30" stroke="#111" stroke-width="1"/>
<line x1="360.3" y1="531.95" x2="363.8" y2="531.95" stroke="#111" stroke-width="1"/>
<line x1="360.3" y1="499.60" x2="363.8" y2="499.60" stroke="#111" stroke-width="1"/>
<line x1="363.60" y1="628.6" x2="363.60" y2="631.9" stroke="#111" stroke-width="1"/>
<text x="363.60" y="642.00" font-size="7.1" text-anchor="middle" fill="#222" font-weight="normal" font-style="normal" >0</text>
<line x1="400.88" y1="628.6" x2="400.88" y2="631.9" stroke="#111" stroke-width="1"/>
<text x="400.88" y="642.00" font-size="7.1" text-anchor="middle" fill="#222" font-weight="normal" font-style="normal" >4</text>
<line x1="438.16" y1="628.6" x2="438.16" y2="631.9" stroke="#111" stroke-width="1"/>
<text x="438.16" y="642.00" font-size="7.1" text-anchor="middle" fill="#222" font-weight="normal" font-style="normal" >8</text>
<line x1="475.44" y1="628.6" x2="475.44" y2="631.9" stroke="#111" stroke-width="1"/>
<text x="475.44" y="642.00" font-size="7.1" text-anchor="middle" fill="#222" font-weight="normal" font-style="normal" >12</text>
<text x="424.30" y="487.20" font-size="7.3" text-anchor="middle" fill="#222" font-weight="normal" font-style="normal" ><tspan font-style="italic">CSF3R</tspan> Trp547*</text>
<text transform="translate(424.6,655.0) scale(0.68,1)" font-size="9.5" text-anchor="middle" fill="#111" style="stroke-width:0.3px">Months</text>
<polyline points="363.60,590.31 479.73,578.66" fill="none" stroke="#6a1b8a" stroke-width="1.2"/>
<circle cx="363.60" cy="590.31" r="1.7" fill="#6a1b8a"/>
<circle cx="479.73" cy="578.66" r="1.7" fill="#6a1b8a"/>
<polyline points="363.60,564.30 479.73,567.15" fill="none" stroke="#a03ca0" stroke-width="1.2"/>
<circle cx="363.60" cy="564.30" r="1.7" fill="#a03ca0"/>
<circle cx="479.73" cy="567.15" r="1.7" fill="#a03ca0"/>
<polyline points="363.60,571.03 479.73,569.86" fill="none" stroke="#6b6bc0" stroke-width="1.2"/>
<circle cx="363.60" cy="571.03" r="1.7" fill="#6b6bc0"/>
<circle cx="479.73" cy="569.86" r="1.7" fill="#6b6bc0"/>
<polyline points="363.60,585.13 479.73,572.45" fill="none" stroke="#e0288a" stroke-width="1.2"/>
<circle cx="363.60" cy="585.13" r="1.7" fill="#e0288a"/>
<circle cx="479.73" cy="572.45" r="1.7" fill="#e0288a"/>
<polyline points="363.60,560.94 479.73,563.01" fill="none" stroke="#000" stroke-width="1.2"/>
<circle cx="363.60" cy="560.94" r="1.9" fill="#000"/>
<circle cx="479.73" cy="563.01" r="1.9" fill="#000"/>
<polyline points="363.60,572.84 479.73,566.89" fill="none" stroke="#8a8a1a" stroke-width="1.2"/>
<circle cx="363.60" cy="572.84" r="1.7" fill="#8a8a1a"/>
<circle cx="479.73" cy="566.89" r="1.7" fill="#8a8a1a"/>
<polyline points="363.60,563.65 479.73,565.34" fill="none" stroke="#e6d49c" stroke-width="1.2"/>
<circle cx="363.60" cy="563.65" r="1.7" fill="#e6d49c"/>
<circle cx="479.73" cy="565.34" r="1.7" fill="#e6d49c"/>
<rect x="400.8" y="498.7" width="89.0" height="57.599999999999966" fill="#fff" stroke="#111" stroke-width="1"/>
<line x1="404.2" y1="503.5" x2="411.2" y2="503.5" stroke="#6a1b8a" stroke-width="1.3"/>
<circle cx="407.7" cy="503.5" r="1.9" fill="#6a1b8a"/>
<text x="414.2" y="505.60" font-size="5.95" fill="#222"><tspan font-style="italic">ASXL1</tspan> p.Gly646Trpfs*12</text>
<line x1="404.2" y1="511.5" x2="411.2" y2="511.5" stroke="#a03ca0" stroke-width="1.3"/>
<circle cx="407.7" cy="511.5" r="1.9" fill="#a03ca0"/>
<text x="414.2" y="513.60" font-size="5.95" fill="#222"><tspan font-style="italic">BRCA2</tspan> p.Arg2892Thrfs*14</text>
<line x1="404.2" y1="519.4" x2="411.2" y2="519.4" stroke="#6b6bc0" stroke-width="1.3"/>
<circle cx="407.7" cy="519.4" r="1.9" fill="#6b6bc0"/>
<text x="414.2" y="521.50" font-size="5.95" fill="#222"><tspan font-style="italic">BRCA2</tspan> p.Asp1420Tyr</text>
<line x1="404.2" y1="527.4" x2="411.2" y2="527.4" stroke="#e0288a" stroke-width="1.3"/>
<circle cx="407.7" cy="527.4" r="1.9" fill="#e0288a"/>
<text x="414.2" y="529.50" font-size="5.95" fill="#222"><tspan font-style="italic">CEBPA</tspan> p.Gly257Alafs*65</text>
<line x1="404.2" y1="535.4" x2="411.2" y2="535.4" stroke="#000" stroke-width="1.3"/>
<circle cx="407.7" cy="535.4" r="1.9" fill="#000"/>
<text x="414.2" y="537.50" font-size="5.95" fill="#222"><tspan font-style="italic">CSF3R</tspan> p.Trp547*</text>
<line x1="404.2" y1="543.4" x2="411.2" y2="543.4" stroke="#8a8a1a" stroke-width="1.3"/>
<circle cx="407.7" cy="543.4" r="1.9" fill="#8a8a1a"/>
<text x="414.2" y="545.50" font-size="5.95" fill="#222"><tspan font-style="italic">NBN</tspan> p. Ile171Val</text>
<line x1="404.2" y1="551.4" x2="411.2" y2="551.4" stroke="#a67620" stroke-width="1.3"/>
<circle cx="407.7" cy="551.4" r="1.9" fill="#a67620"/>
<text x="414.2" y="553.50" font-size="5.95" fill="#222"><tspan font-style="italic">TSC2</tspan> p. ? (non-coding)</text>
</svg>
</body></html>
